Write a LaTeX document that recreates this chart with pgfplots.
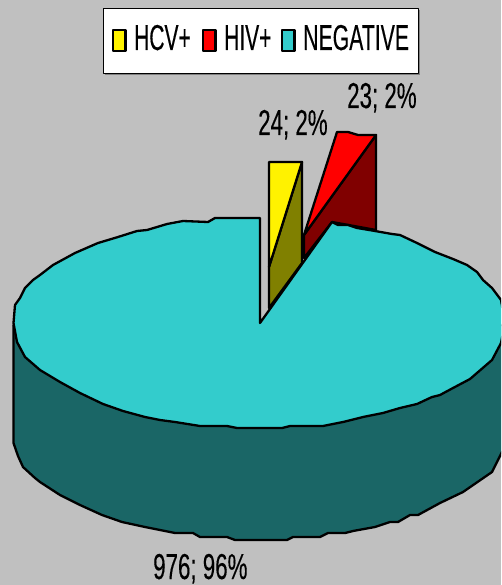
\documentclass[border=0pt]{standalone}
\usepackage{pgfplots}
\usepackage{fontspec}
\pgfplotsset{compat=1.18}
\setmainfont{Liberation Sans}
\newfontfamily\narrowA[FakeStretch=0.62,FakeBold=0.25]{Liberation Sans}
\newfontfamily\narrowB[FakeStretch=0.583,FakeBold=0.25]{Liberation Sans}
\newfontfamily\narrowC[FakeStretch=0.59,FakeBold=0.25]{Liberation Sans}
\definecolor{bg}{HTML}{C0C0C0}
\definecolor{teal1}{HTML}{33CCCC}
\definecolor{teal2}{HTML}{1A6666}
\definecolor{olive1}{HTML}{808000}
\definecolor{red2}{HTML}{800000}
\begin{document}
\begin{tikzpicture}
\begin{axis}[
  scale only axis, width=501pt, height=585pt,
  xmin=0, xmax=501, ymin=0, ymax=585, y dir=reverse,
  hide axis, clip=true, enlargelimits=false,
  every axis plot/.append style={line width=2.3pt, line join=round, draw=black, mark=none},
]
\addplot[fill=bg, draw=none] coordinates {(0,0)(501,0)(501,585)(0,585)} --cycle;
% HIV+ slice
\addplot[fill=red2] coordinates {(304,235)(376,135)(376,230)(332,222)(304,258)} --cycle;
\addplot[fill=red] coordinates {(304,235)(337,132)(348,132)(358,135)(376,135)} --cycle;
% HCV+ slice
\addplot[fill=olive1] coordinates {(302,162)(302,263)(269,308)(269,267)} --cycle;
\addplot[fill=yellow] coordinates {(269,162)(302,162)(269,267)} --cycle;
% NEGATIVE side wall
\addplot[fill=teal2] coordinates {
 (13.5,325)(13.5,443)(18,456)(23,467)(35,478)(40,482)(60,495)(80,505)(102,515)(122,522)(145,527)(175,533)(193,533)(200,537)(227,537)(235,540)(260,540)
 (287,540)(293,537)(320,537)(328,533)(345,533)(353,531)(375,527)(390,522)(398,522)(410,515)(418,515)(440,503)(463,492)(492,472)(503,450)(505,325)} --cycle;
% NEGATIVE top
\addplot[fill=teal1] coordinates {
 (13.5,323)(15,305)(20,298)(25,288)(33,280)(40,275)(53,265)(75,253)(98,243)(118,237)(137,231)(147,230)(167,224)(183,221)(208,222)(215,218)(260,218)
 (260,323)(332,222)(338,225)(348,225)(357,228)(375,231)(392,234)(400,235)(417,243)(435,252)(453,259)(467,265)(477,272)(483,280)(492,288)(501,300)(505,323)
 (501,343)(492,360)(470,379)(453,388)(440,395)(432,397)(417,404)(400,408)(383,413)(363,417)(343,422)(323,426)(290,426)(282,428)(237,428)(227,426)(200,426)
 (175,422)(160,420)(145,417)(123,411)(103,404)(80,393)(60,382)(40,370)(25,357)(17,342)} --cycle;
% Legend
\addplot[fill=gray, draw=none] coordinates {(105,10)(419.5,10)(419.5,75)(105,75)} --cycle;
\addplot[fill=white, line width=1pt] coordinates {(103.5,8.5)(418.5,8.5)(418.5,74)(103.5,74)} --cycle;
\addplot[fill=yellow, line width=2.6pt] coordinates {(113,30)(125.5,30)(125.5,51)(113,51)} --cycle;
\addplot[fill=red, line width=2.6pt] coordinates {(203,30)(215.5,30)(215.5,51)(203,51)} --cycle;
\addplot[fill=teal1, line width=2.6pt] coordinates {(282,30)(294.5,30)(294.5,51)(282,51)} --cycle;
\node[anchor=base west, inner sep=0pt, font=\narrowB\fontsize{36pt}{36pt}\selectfont] at (axis cs:134,50) {HCV+};
\node[anchor=base west, inner sep=0pt, font=\narrowB\fontsize{36pt}{36pt}\selectfont] at (axis cs:224,50) {HIV+};
\node[anchor=base west, inner sep=0pt, font=\narrowC\fontsize{36pt}{36pt}\selectfont] at (axis cs:303,50) {NEGATIVE};
% Data labels
\node[anchor=base west, inner sep=0pt, font=\narrowA\fontsize{36pt}{36pt}\selectfont] at (axis cs:258,135) {24; 2\%};
\node[anchor=base west, inner sep=0pt, font=\narrowA\fontsize{36pt}{36pt}\selectfont] at (axis cs:347,108) {23; 2\%};
\node[anchor=base west, inner sep=0pt, font=\narrowA\fontsize{36pt}{36pt}\selectfont] at (axis cs:153,579) {976; 96\%};
\end{axis}
\end{tikzpicture}
\end{document}
